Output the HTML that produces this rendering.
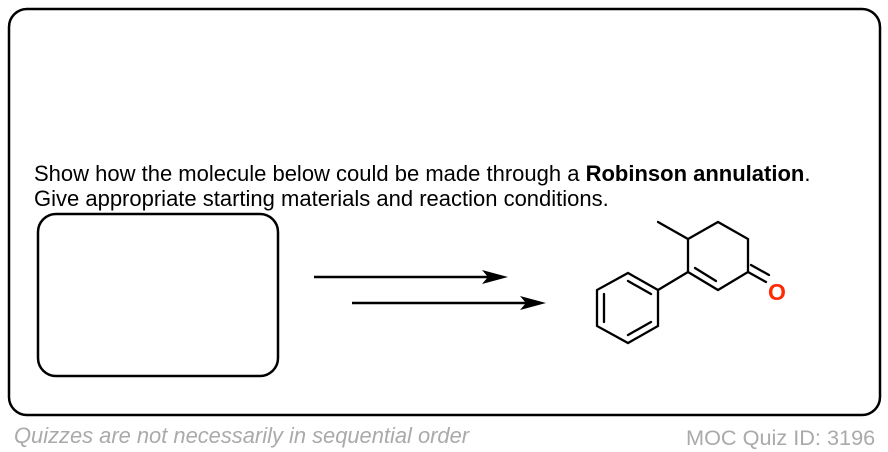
<!DOCTYPE html>
<html><head><style>
body{margin:0;width:888px;height:452px;background:#fff;font-family:"Liberation Sans",Arial,sans-serif;overflow:hidden;position:relative}
.t{position:absolute;font-size:22px;color:#000;white-space:nowrap;line-height:24px}
</style></head><body>
<svg width="888" height="452" style="position:absolute;left:0;top:0">
<rect x="9" y="9" width="871" height="406" rx="18" fill="none" stroke="#000" stroke-width="2.5"/>
<rect x="38" y="214" width="240" height="162" rx="18" fill="none" stroke="#000" stroke-width="2.5"/>
<line x1="314" y1="277" x2="490" y2="277" stroke="#000" stroke-width="2.5"/>
<polygon points="508,277 482,270 488,277 482,284" fill="#000"/>
<line x1="352" y1="303" x2="528" y2="303" stroke="#000" stroke-width="2.5"/>
<polygon points="546,303 520,296 526,303 520,310" fill="#000"/>
<g stroke="#000" stroke-width="2.3" fill="none" stroke-linecap="round">
<line x1="658" y1="222" x2="688" y2="239"/>
<polyline points="688,272 688,239 718,222 748,239 748,272 718,290 688,272"/>
<line x1="695" y1="268" x2="716" y2="281"/>
<line x1="748" y1="272" x2="766" y2="282"/>
<line x1="751" y1="265" x2="769" y2="275"/>
<line x1="688" y1="272" x2="658" y2="290"/>
<polygon points="658,290 628,273 597,290 597,326 628,343 658,326"/>
<line x1="628" y1="281" x2="651" y2="294"/>
<line x1="604" y1="294" x2="604" y2="322"/>
<line x1="628" y1="335" x2="651" y2="322"/>
</g>
<text x="768" y="300" font-family="Liberation Sans,Arial,sans-serif" font-size="23" font-weight="bold" fill="#ff2a00">O</text>
</svg>
<div class="t" style="left:34px;top:162px">Show how the molecule below could be made through a <b>Robinson annulation</b>.</div>
<div class="t" style="left:34px;top:187px">Give appropriate starting materials and reaction conditions.</div>
<div class="t" style="left:14px;top:424px;color:#aaa;font-style:italic;font-size:21.9px">Quizzes are not necessarily in sequential order</div>
<div class="t" style="left:686px;top:426px;color:#aaa;font-size:21.7px">MOC Quiz ID: 3196</div>
</body></html>
